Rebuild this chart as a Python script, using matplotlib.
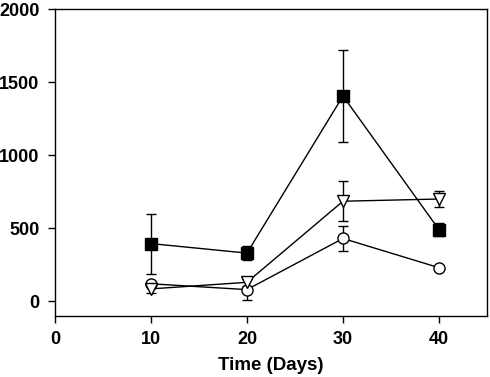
import numpy as np
import matplotlib.pyplot as plt

plt.rcParams['font.family'] = ['Liberation Sans', 'DejaVu Sans']
plt.rcParams['font.weight'] = 'bold'

# Data
days = [10, 20, 30, 40]
sq = [395, 330, 1405, 490]
sq_err = [205, 50, 315, 45]
tri = [85, 130, 685, 700]
tri_err = [25, 25, 135, 55]
circ = [120, 80, 430, 230]
circ_err = [15, 70, 85, 0]

fig = plt.figure(figsize=(4.9, 3.77), dpi=100)
ax = fig.add_axes([0.112, 0.162, 0.882, 0.814])

common = dict(color='black', lw=1, elinewidth=1, capsize=3.8, capthick=1,
              markersize=8, markeredgewidth=1, markeredgecolor='black')
ax.errorbar(days, circ, yerr=circ_err, marker='o', markerfacecolor='white', **common)
ax.errorbar(days, tri, yerr=tri_err, marker='v', markerfacecolor='white', **common)
ax.errorbar(days, sq, yerr=sq_err, marker='s', markerfacecolor='black', **common)

ax.set_xlim(0, 45)
ax.set_ylim(-100, 2000)
ax.set_xticks([0, 10, 20, 30, 40])
ax.set_yticks([0, 500, 1000, 1500, 2000])
ax.tick_params(direction='out', length=5, width=1, labelsize=13, pad=6)
for s in ax.spines.values():
    s.set_linewidth(1)
ax.set_xlabel('Time (Days)', fontsize=13.5, fontweight='bold', labelpad=6)

fig.savefig('out.png', dpi=100)
